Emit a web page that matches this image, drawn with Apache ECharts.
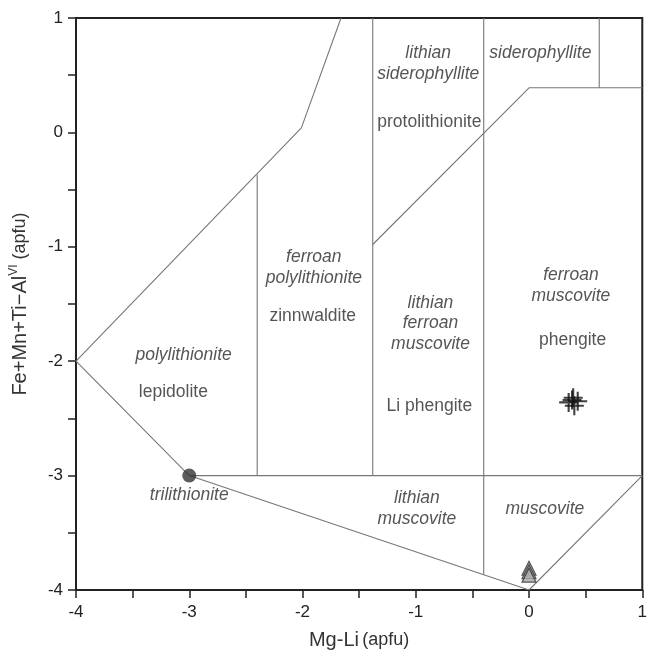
<!DOCTYPE html>
<html>
<head>
<meta charset="utf-8">
<script src="https://cdn.jsdelivr.net/npm/echarts@6/dist/echarts.min.js"></script>
<style>
  html, body { margin: 0; padding: 0; background: #fff; }
  #main { width: 650px; height: 655px; }
</style>
</head>
<body>
<div id="main"></div>
<script>
// field boundaries, in (Mg-Li, Fe+Mn+Ti-AlVI)
const outerEdge = [[-1.66, 1], [-2.01, 0.04], [-4, -2], [-3, -3], [0, -4], [1, -3]];
const baseLine = [[-3, -3], [1, -3]];
const zinnLine = [[-2.4, -3], [-2.4, -0.37]];
const protoLine = [[-1.38, -3], [-1.38, 1]];
const liMusLine = [[-0.4, -3.867], [-0.4, 1]];
const sidLine = [[-1.38, -0.98], [0, 0.39], [1, 0.39]];
const sidTopLine = [[0.62, 0.39], [0.62, 1]];
const boundaries = [outerEdge, baseLine, zinnLine, protoLine, liMusLine, sidLine, sidTopLine];

// field names
const fieldText = ['polylithionite', 'lepidolite', 'ferroan\npolylithionite', 'zinnwaldite',
  'lithian\nsiderophyllite', 'siderophyllite', 'protolithionite',
  'lithian\nferroan\nmuscovite', 'Li phengite', 'ferroan\nmuscovite', 'phengite',
  'trilithionite', 'lithian\nmuscovite', 'muscovite'];
const fieldX = [-3.05, -3.14, -1.9, -1.91, -0.89, 0.1, -0.88, -0.87, -0.88, 0.37, 0.385, -3.0, -0.99, 0.14];
const fieldY = [-1.95, -2.27, -1.18, -1.61, 0.6, 0.69, 0.09, -1.67, -2.39, -1.34, -1.82, -3.17, -3.29, -3.29];
const fieldItalic = [true, false, true, false, true, true, false, true, false, true, false, true, true, true];

// samples
const circlePts = [[-3, -3]];
const crossPts = [[0.35, -2.36], [0.39, -2.32], [0.43, -2.35], [0.40, -2.39], [0.38, -2.34]];
const trianglePts = [[0, -3.81], [0, -3.84], [0, -3.87]];

const chart = echarts.init(document.getElementById('main'));
const font = '"Liberation Sans", Arial, sans-serif';

const lineSeries = boundaries.map(pts => ({
  type: 'line',
  data: pts,
  symbol: 'none',
  silent: true,
  z: 1,
  lineStyle: { color: '#777', width: 1.1 }
}));

const labelData = fieldText.map((t, i) => ({
  value: [fieldX[i], fieldY[i]],
  name: t,
  label: { fontStyle: fieldItalic[i] ? 'italic' : 'normal' }
}));

const axisCommon = {
  type: 'value',
  min: -4,
  max: 1,
  interval: 0.5,
  nameLocation: 'middle',
  axisLine: { show: true, onZero: false, lineStyle: { color: '#222', width: 2 } },
  axisTick: { show: true, inside: false, length: 8, lineStyle: { color: '#222', width: 1.5 } },
  splitLine: { show: false },
  axisLabel: {
    color: '#222',
    fontSize: 17,
    fontFamily: font,
    formatter: v => (Number.isInteger(v) ? String(v) : '')
  }
};

chart.setOption({
  animation: false,
  backgroundColor: '#fff',
  grid: { left: 75, right: 5, top: 18, bottom: 63, show: true, borderColor: '#222', borderWidth: 2 },
  xAxis: Object.assign({}, axisCommon, {
    name: '{a|Mg-Li} {b|(apfu)}',
    nameGap: 40,
    nameTextStyle: {
      rich: {
        a: { fontSize: 20, color: '#333', fontFamily: font },
        b: { fontSize: 18, color: '#333', fontFamily: font }
      }
    },
    axisLabel: Object.assign({}, axisCommon.axisLabel, { margin: 14 })
  }),
  yAxis: Object.assign({}, axisCommon, {
    name: '{a|Fe+Mn+Ti−Al}{s|VI}{b| (apfu)}',
    nameGap: 44,
    nameTextStyle: {
      rich: {
        a: { fontSize: 20, color: '#333', fontFamily: font, lineHeight: 24 },
        s: { fontSize: 12, color: '#333', fontFamily: font, verticalAlign: 'top', lineHeight: 24 },
        b: { fontSize: 18, color: '#333', fontFamily: font, lineHeight: 24 }
      }
    },
    axisLabel: Object.assign({}, axisCommon.axisLabel, { margin: 13 })
  }),
  series: lineSeries.concat([
    {
      type: 'scatter',
      data: labelData,
      symbolSize: 0,
      silent: true,
      z: 3,
      label: {
        show: true,
        position: 'inside',
        formatter: p => p.name,
        color: '#2a2a2a',
        fontSize: 17.5,
        lineHeight: 20.5,
        fontFamily: font,
        align: 'center'
      }
    },
    {
      type: 'scatter',
      data: circlePts,
      symbol: 'circle',
      symbolSize: 14,
      z: 4,
      itemStyle: { color: '#333' }
    },
    {
      type: 'scatter',
      data: crossPts,
      symbol: 'path://M0,8.9 H20 V11.1 H0 Z M8.9,0 H11.1 V20 H8.9 Z',
      symbolSize: 19,
      z: 4,
      itemStyle: { color: '#111' }
    },
    {
      type: 'scatter',
      data: trianglePts,
      symbol: 'triangle',
      symbolSize: [14, 14],
      z: 4,
      itemStyle: { color: '#aaa', borderColor: '#333', borderWidth: 1.2 }
    }
  ])
});
</script>
</body>
</html>
